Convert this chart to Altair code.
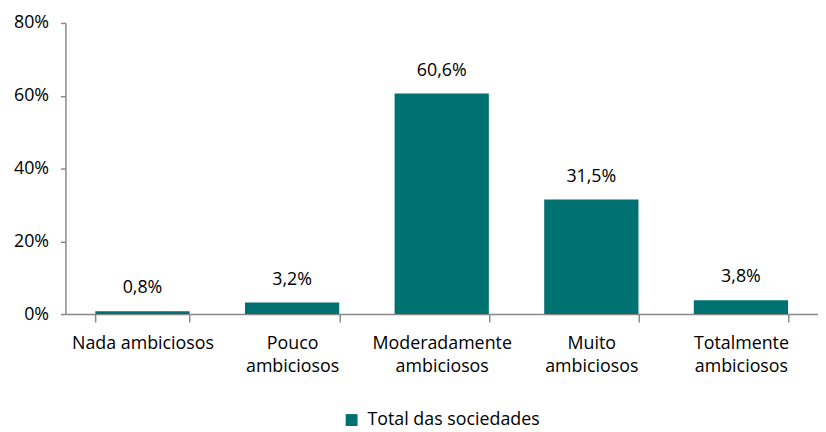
import altair as alt
import pandas as pd

categories = ["Nada ambiciosos", "Pouco ambiciosos", "Moderadamente ambiciosos",
              "Muito ambiciosos", "Totalmente ambiciosos"]
values = [0.8, 3.2, 60.6, 31.5, 3.8]
series = ["Total das sociedades"] * 5
y_ticks = [0, 20, 40, 60, 80]

df = pd.DataFrame({"cat": categories, "v": values, "serie": series})

FONT = "Open Sans"
FS = 18
TEAL = "#007171"
GREY = "#898989"

base = alt.Chart(df).encode(
    x=alt.X("cat:N", sort=categories, title=None,
            scale=alt.Scale(paddingInner=0.37, paddingOuter=0.2),
            axis=alt.Axis(labelAngle=0, tickBand="extent", tickSize=8,
                          domainColor=GREY, tickColor=GREY, domainWidth=1.5, tickWidth=1.5,
                          labelFont=FONT, labelFontSize=FS, labelColor="#000000",
                          labelPadding=13, labelLineHeight=23, labelBaseline="top",
                          labelExpr="datum.label == 'Nada ambiciosos' ? datum.label : split(datum.label, ' ')")),
)

bars = base.mark_bar(color=TEAL).encode(
    y=alt.Y("v:Q", title=None, scale=alt.Scale(domain=[0, 80]),
            axis=alt.Axis(values=y_ticks, grid=False, tickSize=5,
                          domainColor=GREY, tickColor=GREY, domainWidth=1.5, tickWidth=1.5,
                          labelFont=FONT, labelFontSize=FS, labelColor="#000000",
                          labelPadding=12, labelExpr="datum.value + '%'")),
    color=alt.Color("serie:N", scale=alt.Scale(range=[TEAL]), title=None,
                    legend=alt.Legend(orient="none", legendX=280, legendY=392, padding=0,
                                      symbolType="square", symbolSize=144,
                                      symbolStrokeWidth=0, labelLimit=400,
                                      labelFont=FONT, labelFontSize=FS, labelColor="#000000",
                                      labelOffset=7)),
)

labels = base.transform_calculate(
    lab="replace(format(datum.v, '.1f'), '.', ',') + '%'"
).mark_text(baseline="alphabetic", dy=-18, font=FONT, fontSize=FS, color="#000000").encode(
    y="v:Q", text="lab:N"
)

chart = alt.layer(bars, labels).properties(
    width=760, height=294,
    autosize=alt.AutoSizeParams(type="none"),
    padding={"left": 58, "top": 13, "right": 0, "bottom": 118},
    background="white",
).configure_view(stroke=None)

chart.save("out.html", embed_options={"renderer": "svg", "actions": False})
